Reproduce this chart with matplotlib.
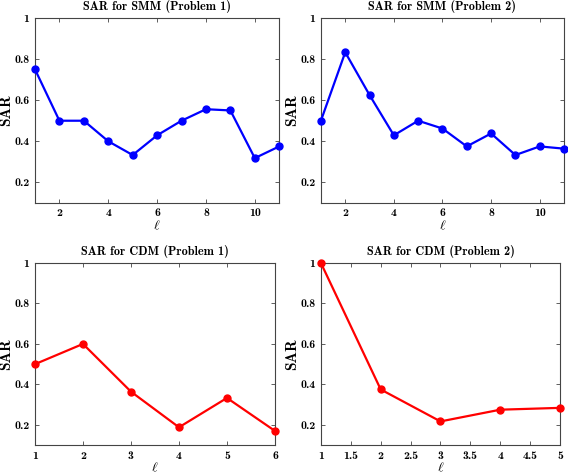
import matplotlib
matplotlib.use("Agg")
import matplotlib.pyplot as plt

# -----------------------------------------------------------------------------
# Data
# -----------------------------------------------------------------------------
smm_p1_x = [1, 2, 3, 4, 5, 6, 7, 8, 9, 10, 11]
smm_p1_y = [0.75, 0.5, 0.5, 0.4, 0.333, 0.429, 0.5, 0.556, 0.55, 0.318, 0.375]

smm_p2_x = [1, 2, 3, 4, 5, 6, 7, 8, 9, 10, 11]
smm_p2_y = [0.5, 0.833, 0.625, 0.429, 0.5, 0.462, 0.375, 0.438, 0.333, 0.375, 0.364]

cdm_p1_x = [1, 2, 3, 4, 5, 6]
cdm_p1_y = [0.5, 0.6, 0.364, 0.188, 0.333, 0.17]

cdm_p2_x = [1, 2, 3, 4, 5]
cdm_p2_y = [1.0, 0.375, 0.217, 0.275, 0.284]

titles = ["SAR for SMM (Problem 1)", "SAR for SMM (Problem 2)",
          "SAR for CDM (Problem 1)", "SAR for CDM (Problem 2)"]

# -----------------------------------------------------------------------------
# Style
# -----------------------------------------------------------------------------
plt.rcParams['font.family'] = ['cmb10', 'DejaVu Serif']
plt.rcParams['mathtext.fontset'] = 'cm'
plt.rcParams['axes.unicode_minus'] = False


def draw(ax, x, y, color, title, xticks):
    ax.plot(x, y, color=color, lw=1.6, marker='o', ms=5, clip_on=False, zorder=3)
    ax.set_xlim(x[0], x[-1])
    ax.set_ylim(0.1, 1.0)
    ax.set_yticks([0.2, 0.4, 0.6, 0.8, 1.0])
    ax.set_yticklabels(['0.2', '0.4', '0.6', '0.8', '1'])
    ax.set_xticks(xticks)
    ax.set_xticklabels([('%g' % t) for t in xticks])
    ax.tick_params(direction='in', top=True, right=True, labelsize=8.5, length=3,
                   width=0.6, color='#444444', pad=4)
    for s in ax.spines.values():
        s.set_linewidth(0.8)
        s.set_color('#444444')
    ax.set_title(title, fontsize=8.8, pad=6)
    ax.set_ylabel('SAR', fontsize=11, labelpad=1)
    ax.set_xlabel(r'$\ell$', fontsize=10, labelpad=0)


fig = plt.figure(figsize=(5.68, 4.73), dpi=100)
ax1 = fig.add_axes([0.0616, 0.571, 0.430, 0.391])
ax2 = fig.add_axes([0.565, 0.571, 0.428, 0.391])
ax3 = fig.add_axes([0.0616, 0.059, 0.4225, 0.385])
ax4 = fig.add_axes([0.565, 0.059, 0.421, 0.385])

draw(ax1, smm_p1_x, smm_p1_y, 'blue', titles[0], [2, 4, 6, 8, 10])
draw(ax2, smm_p2_x, smm_p2_y, 'blue', titles[1], [2, 4, 6, 8, 10])
draw(ax3, cdm_p1_x, cdm_p1_y, 'red', titles[2], [1, 2, 3, 4, 5, 6])
draw(ax4, cdm_p2_x, cdm_p2_y, 'red', titles[3], [1, 1.5, 2, 2.5, 3, 3.5, 4, 4.5, 5])

fig.savefig('out.png', dpi=100)
